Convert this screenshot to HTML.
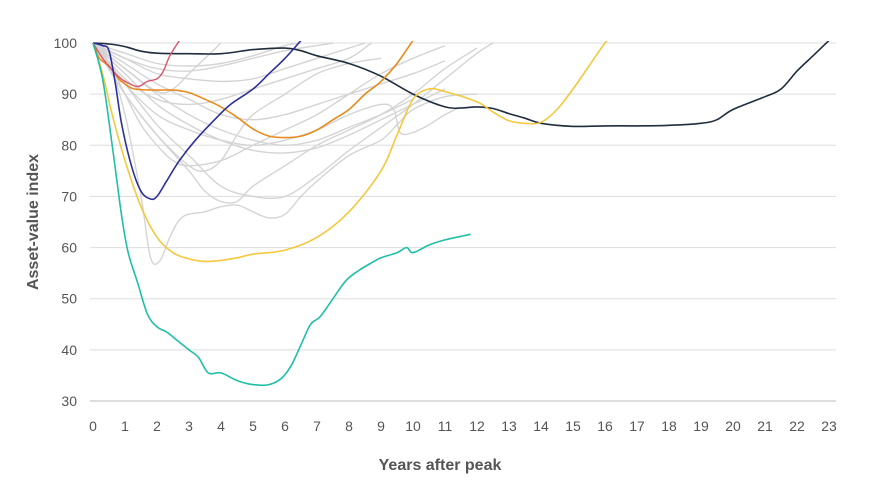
<!DOCTYPE html>
<html><head><meta charset="utf-8"><style>
html,body{margin:0;padding:0;background:#fff;}
svg{display:block;font-family:"Liberation Sans",sans-serif;}
</style></head><body>
<svg id="chart" width="870" height="486" viewBox="0 0 870 486">
<defs><clipPath id="plotclip"><rect x="88" y="41" width="760" height="370"/></clipPath></defs>
<g id="grid"></g>
<g id="yticks"></g>
<g id="xticks"></g>
<g id="series" clip-path="url(#plotclip)"></g>
<text x="38" y="222" transform="rotate(-90 38 222)" text-anchor="middle" font-size="16" font-weight="bold" fill="#555">Asset-value index</text>
<text x="440" y="470" text-anchor="middle" font-size="16" font-weight="bold" fill="#555">Years after peak</text>
</svg>
<script>
const yTicks=[30,40,50,60,70,80,90,100];
const xTicks=[0,1,2,3,4,5,6,7,8,9,10,11,12,13,14,15,16,17,18,19,20,21,22,23];
const greyYears1=[0,0.5,1,1.5,1.8,2.1,2.4,2.8,3.5,4,4.5,5,5.5,6,6.5,7,8,9,9.5,10,11,12];
const greyVals1=[100,96,86,70,58,57.5,62,66,67,68,68.3,67,65.8,66.5,70,73,78,81,84,87,89.5,90];
const greyYears2=[0,1,2,3,3.5,4,4.5,5,6,7,8,9];
const greyVals2=[100,90,82,76,75,77,82,86,90,94,96,97];
const greyYears3=[0,1,2,3,4,5,6,7,8,9,10,11,12,12.5];
const greyVals3=[100,92,84,78,72,70,70,74,79,83.5,88,93,98,100];
const greyYears4=[0,1,2,3,3.5,4,4.5,5,6,7,8,9,10,11,12];
const greyVals4=[100,90,82,75,71,69,69,72,76,80,83,86,90,95,99];
const greyYears5=[0,1,2,3,4,5,6,7,8,9,10,11];
const greyVals5=[100,94,88,84,81,79,78.5,79.5,82,85,88,91];
const greyYears6=[0,1,2,3,4,5,6,7,8,9,10];
const greyVals6=[100,95,90,86,83,81,80,81,83.5,86,89];
const greyYears7=[0,1,2,3,4,5,6,7,8,9,10,11];
const greyVals7=[100,96,92,89,86,85,86,88,90,92,94,96.5];
const greyYears8=[0,1,2,3,4,5,6,7,8,8.5];
const greyVals8=[100,97,94,93,92.5,93,95,97,99,100];
const greyYears9=[0,1,2,3,4,5,6,6.5];
const greyVals9=[100,98,96,95.5,96,97.5,99.5,100];
const greyYears10=[0,1,2,2.5,3,3.5,4];
const greyVals10=[100,95,90.5,91,94,97,100];
const greyYears11=[0,1,2,3,4,5,6,7,8,8.7];
const greyVals11=[100,93,89,88,89,91,93,95,97,100];
const greyYears12=[0,1,2,3,4,5,6,7,8,9,9.4,9.6,10,10.5,11,11.5];
const greyVals12=[100,92,86,83,81,80,81,83,86,88,87,82.5,82.5,84,86,87.5];
const greyYears13=[0,1,2,3,4,5,6,7,7.5];
const greyVals13=[100,97,95,94.5,95.5,97,98.5,99.5,100];
const greyYears14=[0,0.5,1,1.5,2,2.5,3,4,5,6,7,8,9,10,11];
const greyVals14=[100,96,90,84,80,77,76,77,80,83,86,90,94,97,99.5];
const tealYears=[0,0.3,0.6,0.9,1.1,1.4,1.7,2,2.3,2.6,3,3.3,3.6,4,4.5,5,5.5,5.9,6.2,6.5,6.8,7.1,7.5,7.9,8.3,8.7,9,9.5,9.8,10,10.5,11,11.5,11.8];
const tealVals=[100,93,80,66,59,53,47,44.5,43.5,42,40,38.5,35.5,35.5,34,33.2,33.2,34.5,37,41,45,46.5,50,53.5,55.5,57,58,59,60,59,60.5,61.5,62.2,62.6];
const yellowYears=[0,0.3,0.6,1,1.5,2,2.5,3,3.5,4,4.5,5,6,7,8,9,9.5,10,10.5,11,12,12.5,13,13.5,14,14.5,15,15.5,16,16.3];
const yellowVals=[100,94,86,77,68,62,59,57.8,57.3,57.5,58,58.7,59.5,62,67,75,82,89,91,90.5,88.5,86.5,84.8,84.3,84.5,87,91,95.5,100,102];
const blueYears=[0,0.3,0.5,0.7,0.9,1.2,1.5,1.8,2,2.3,2.7,3.2,3.8,4.3,5,5.5,6,6.5];
const blueVals=[100,99.5,98.5,92,84,76,71,69.5,70,73,77,81,85,88,91,94,97,100.5];
const orangeYears=[0,0.2,0.5,0.8,1,1.3,2,2.5,3,3.5,4,4.5,5,5.5,6,6.5,7,7.5,8,8.5,9,9.5,10];
const orangeVals=[100,97,95.5,93,92,91,90.8,90.8,90.3,89,87.5,85.5,83.2,81.8,81.5,81.8,83,85,87,90,92.5,96,100.5];
const redYears=[0,0.3,0.7,1,1.4,1.7,2,2.2,2.4,2.7];
const redVals=[100,97,94,92.5,91.5,92.5,93,94.5,97.5,100.5];
const navyYears=[0,0.5,1,1.5,2,3,4,5,6,6.5,7,8,9,10,11,11.5,12,12.5,13,13.5,14,15,16,17,18,19,19.5,20,21,21.5,22,22.5,23];
const navyVals=[100,99.8,99.3,98.4,98,97.9,97.9,98.7,99,98.5,97.5,96,93.5,90,87.5,87.3,87.5,87.2,86.2,85.3,84.3,83.7,83.8,83.8,83.9,84.3,85,87,89.5,91,94.5,97.5,100.5];

const NS="http://www.w3.org/2000/svg";
const X0=93,XS=32,Y0=43,YS=(401-43)/70;
function xs(v){return X0+v*XS;}
function ys(v){return Y0+(100-v)*YS;}
function mk(tag,attrs,parent){const e=document.createElementNS(NS,tag);for(const k in attrs)e.setAttribute(k,attrs[k]);parent.appendChild(e);return e;}
const grid=document.getElementById('grid'),yt=document.getElementById('yticks'),xt=document.getElementById('xticks'),ser=document.getElementById('series');
yTicks.forEach(t=>{
  const l=mk('line',{x1:90,x2:836,y1:ys(t),y2:ys(t),stroke:t===30?'#bbb':'#ddd','stroke-width':1},grid);
  
  
  const tx=mk('text',{x:77,y:ys(t)+5,'text-anchor':'end','font-size':14,fill:'#555'},yt);
  tx.textContent=t;
  
  
});
xTicks.forEach(t=>{
  const tx=mk('text',{x:xs(t),y:431,'text-anchor':'middle','font-size':14,fill:'#555'},xt);
  tx.textContent=t;
  
  
});
function pathD(xsArr,vs){
  const p=xsArr.map((x,i)=>[xs(x),ys(vs[i])]);
  let d='M'+p[0][0].toFixed(1)+','+p[0][1].toFixed(1);
  for(let i=0;i<p.length-1;i++){
    const a=p[i-1]||p[i],b=p[i],c=p[i+1],e=p[i+2]||c;
    const c1=[b[0]+(c[0]-a[0])/6,b[1]+(c[1]-a[1])/6],c2=[c[0]-(e[0]-b[0])/6,c[1]-(e[1]-b[1])/6];
    d+='C'+c1.map(v=>v.toFixed(1))+' '+c2.map(v=>v.toFixed(1))+' '+c[0].toFixed(1)+','+c[1].toFixed(1);
  }
  return d;
}
function draw(xa,va,color,w,name){
  const p=mk('path',{d:pathD(xa,va),fill:'none',stroke:color,'stroke-width':w,'stroke-linejoin':'round'},ser);
  
  
}
const greys=[[greyYears1,greyVals1],[greyYears2,greyVals2],[greyYears3,greyVals3],[greyYears4,greyVals4],[greyYears5,greyVals5],[greyYears6,greyVals6],[greyYears7,greyVals7],[greyYears8,greyVals8],[greyYears9,greyVals9],[greyYears10,greyVals10],[greyYears11,greyVals11],[greyYears12,greyVals12],[greyYears13,greyVals13],[greyYears14,greyVals14]];
greys.forEach((g,i)=>draw(g[0],g[1],'#d4d4d4',1.4,'grey-series-'+(i+1)));
draw(navyYears,navyVals,'#1f2d3d',1.6,'navy-series');
draw(yellowYears,yellowVals,'#f4c83f',1.6,'yellow-series');
draw(orangeYears,orangeVals,'#e88a1c',1.6,'orange-series');
draw(redYears,redVals,'#d9536a',1.4,'red-series');
draw(blueYears,blueVals,'#2b2f9c',1.6,'blue-series');
draw(tealYears,tealVals,'#1fbfa6',1.6,'teal-series');
</script>
</body></html>
